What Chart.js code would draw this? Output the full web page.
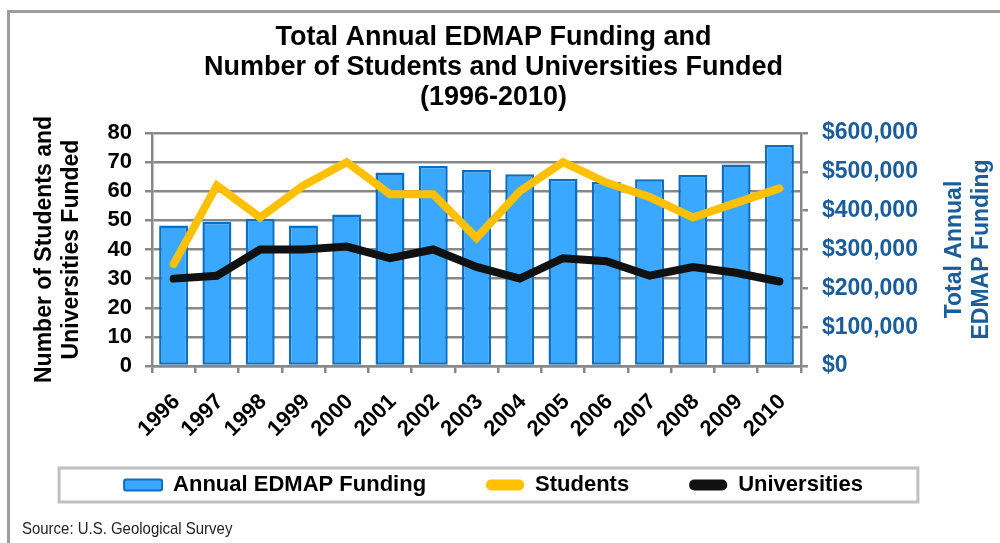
<!doctype html>
<html>

<head>
    <title>EDMAP Funding</title>
    <script src="https://cdn.jsdelivr.net/npm/chart.js"></script>
    <style>
        body { margin: 0; background: #fff; }
        #wrap { position: relative; width: 1000px; height: 543px; overflow: hidden; }
        #frame { position: absolute; left: 7px; top: 10px; width: 1000px; height: 600px; border-top: 3px solid #9c9c9c; border-left: 3px solid #9c9c9c; }
        #grafico { position: absolute; left: 0; top: 0; }
        #fonte { position: absolute; left: 22px; top: 519px; font: 17px 'Liberation Sans', sans-serif; color: #222; transform: scaleX(0.88); transform-origin: left center; }
    </style>
</head>

<body>
    <div id="wrap">
        <div id="frame"></div>
        <canvas id="grafico" width="1000" height="543"></canvas>
        <div id="fonte">Source: U.S. Geological Survey</div>
    </div>

    <script>
    const anos = ['1996', '1997', '1998', '1999', '2000', '2001', '2002', '2003', '2004', '2005', '2006', '2007', '2008', '2009', '2010'];
    const financiamento = [362000, 371000, 379000, 362000, 390000, 498000, 515000, 505000, 494000, 482000, 474000, 481000, 492000, 519000, 569000];
    const estudantes = [35, 62, 51, 62, 70, 59, 59, 44, 60, 70, 63, 58, 51, 56, 61];
    const universidades = [30, 31, 40, 40, 41, 37, 40, 34, 30, 37, 36, 31, 34, 32, 29];
    const rotulosFinanciamento = ['$0', '$100,000', '$200,000', '$300,000', '$400,000', '$500,000', '$600,000'];

    const FONTE = "'Liberation Sans', Arial, sans-serif";
    const CINZA = '#888888';
    const AZUL = '#1b5d9b';

    // titulo do eixo direito (lido de baixo para cima, como o esquerdo)
    const tituloDireita = {
        id: 'tituloDireita',
        afterDraw(chart) {
            const ctx = chart.ctx;
            const area = chart.chartArea;
            const s = chart.scales.y1;
            ctx.save();
            ctx.fillStyle = AZUL;
            ctx.font = 'bold 23px ' + FONTE;
            ctx.textAlign = 'center';
            ctx.textBaseline = 'middle';
            ctx.translate(s.right + 1.5, (area.top + area.bottom) / 2);
            ctx.rotate(-Math.PI / 2);
            ctx.fillText('Total Annual', 0, -13.5);
            ctx.fillText('EDMAP Funding', 0, 13.5);
            ctx.restore();
        }
    };

    // moldura cinza em volta da legenda
    const caixaLegenda = {
        id: 'caixaLegenda',
        afterDraw(chart) {
            const hb = chart.legend.legendHitBoxes;
            if (!hb || !hb.length) return;
            const ultimo = hb[hb.length - 1];
            const cy = hb[0].top + hb[0].height / 2;
            const esq = hb[0].left - 65;
            const dir = ultimo.left + ultimo.width + 55;
            const ctx = chart.ctx;
            ctx.save();
            ctx.strokeStyle = '#c0c0c0';
            ctx.lineWidth = 3;
            ctx.strokeRect(esq, cy - 17, dir - esq, 34);
            ctx.restore();
        }
    };

    var grafico = new Chart(document.getElementById('grafico').getContext('2d'), {
        type: 'bar',
        data: {
            labels: anos,
            datasets: [
                {
                    type: 'bar',
                    label: 'Annual EDMAP Funding',
                    data: financiamento,
                    yAxisID: 'y1',
                    backgroundColor: '#3aa8ff',
                    borderColor: '#0a6fc2',
                    borderWidth: 2.5,
                    borderSkipped: false,
                    barPercentage: 0.67,
                    categoryPercentage: 1,
                    order: 1
                },
                {
                    type: 'line',
                    label: 'Students',
                    data: estudantes,
                    yAxisID: 'y',
                    borderColor: '#ffc000',
                    backgroundColor: '#ffc000',
                    borderWidth: 8,
                    borderCapStyle: 'round',
                    pointRadius: 0,
                    tension: 0,
                    order: 0
                },
                {
                    type: 'line',
                    label: 'Universities',
                    data: universidades,
                    yAxisID: 'y',
                    borderColor: '#111111',
                    backgroundColor: '#111111',
                    borderWidth: 8,
                    borderCapStyle: 'round',
                    pointRadius: 0,
                    tension: 0,
                    order: 0
                }
            ]
        },
        options: {
            responsive: false,
            animation: false,
            devicePixelRatio: 1,
            layout: {
                padding: { top: 0, left: 20, right: 33, bottom: 37 }
            },
            scales: {
                x: {
                    offset: true,
                    grid: {
                        offset: true,
                        drawOnChartArea: false,
                        drawTicks: true,
                        tickLength: 7,
                        color: CINZA,
                        lineWidth: 2.5
                    },
                    border: { color: CINZA, width: 2.5 },
                    ticks: {
                        color: '#000',
                        font: { family: FONTE, size: 22, weight: 'bold' },
                        minRotation: 45,
                        maxRotation: 45,
                        autoSkip: false,
                        padding: 16,
                        labelOffset: 3
                    },
                    afterFit(s) {
                        // eixo baixo para a legenda caber; os anos podem passar da caixa
                        s.height = 48;
                        s._computeLabelArea = () => null;
                    }
                },
                y: {
                    position: 'left',
                    min: 0,
                    max: 80,
                    ticks: {
                        stepSize: 10,
                        autoSkip: false,
                        color: '#000',
                        font: { family: FONTE, size: 22, weight: 'bold' },
                        padding: 13
                    },
                    grid: { color: CINZA, lineWidth: 2.5, tickLength: 7 },
                    border: { color: CINZA, width: 2.5 },
                    title: {
                        display: true,
                        text: ['Number of Students and', 'Universities Funded'],
                        color: '#000',
                        font: { family: FONTE, size: 23, weight: 'bold', lineHeight: '27px' },
                        padding: { top: 11.5, bottom: 0 }
                    },
                    afterFit(s) { s.width = 132; }
                },
                y1: {
                    position: 'right',
                    min: 0,
                    max: 600000,
                    ticks: {
                        stepSize: 100000,
                        autoSkip: false,
                        color: AZUL,
                        font: { family: FONTE, size: 23, weight: 'bold' },
                        padding: 14,
                        callback: (v, i) => rotulosFinanciamento[i]
                    },
                    grid: { drawOnChartArea: false, color: CINZA, lineWidth: 2.5, tickLength: 7 },
                    border: { color: CINZA, width: 2.5 },
                    afterFit(s) { s.width = 166; }
                }
            },
            plugins: {
                tooltip: { enabled: false },
                title: {
                    display: true,
                    text: ['Total Annual EDMAP Funding and', 'Number of Students and Universities Funded', '(1996-2010)'],
                    color: '#000',
                    font: { family: FONTE, size: 27, weight: 'bold', lineHeight: '30px' },
                    padding: { top: 23, bottom: 20 }
                },
                legend: {
                    position: 'bottom',
                    labels: {
                        color: '#000',
                        font: { family: FONTE, size: 22, weight: 'bold' },
                        boxWidth: 38,
                        boxHeight: 11,
                        padding: 60,
                        useBorderRadius: true,
                        borderRadius: 4,
                        generateLabels(chart) {
                            const itens = Chart.defaults.plugins.legend.labels.generateLabels(chart);
                            itens.sort((a, b) => a.datasetIndex - b.datasetIndex);
                            itens.forEach((it) => {
                                const ds = chart.data.datasets[it.datasetIndex];
                                if (ds.type === 'line') {
                                    it.fillStyle = ds.borderColor;
                                    it.strokeStyle = ds.borderColor;
                                    it.lineWidth = 0;
                                    it.borderRadius = 5;
                                } else {
                                    it.lineWidth = 2;
                                    it.borderRadius = 2;
                                }
                            });
                            return itens;
                        }
                    }
                }
            }
        },
        plugins: [tituloDireita, caixaLegenda]
    });
    </script>
</body>

</html>
